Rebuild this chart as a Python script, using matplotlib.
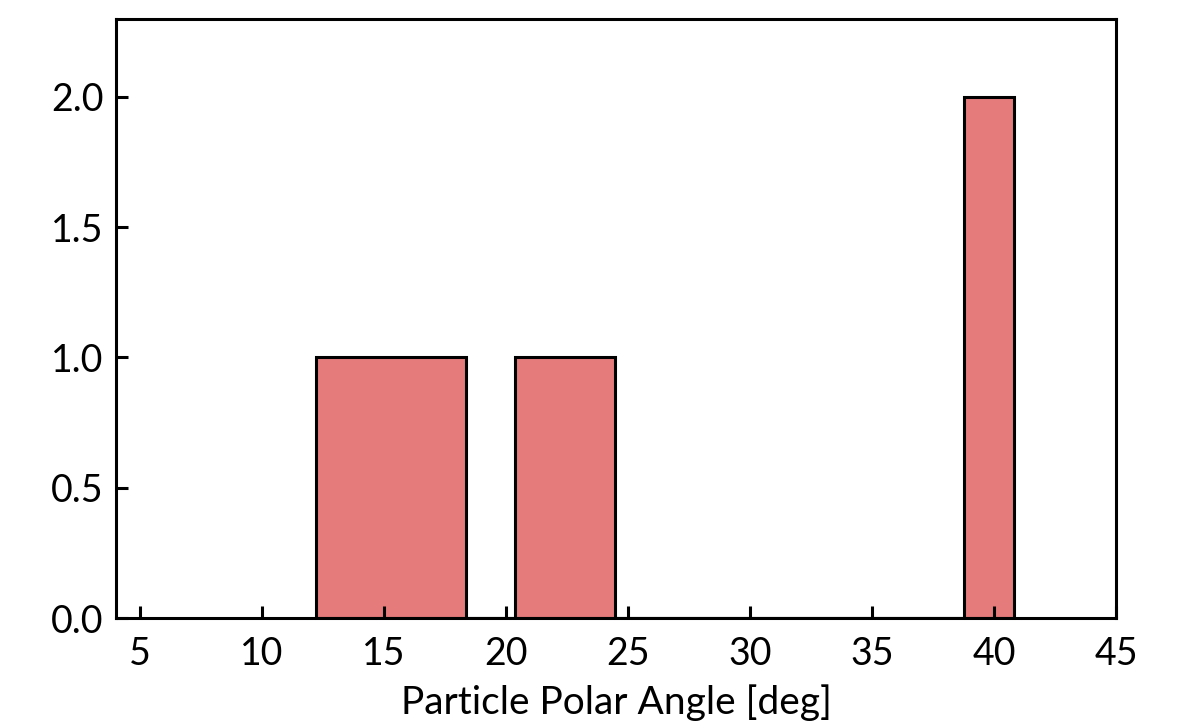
import matplotlib
matplotlib.use("Agg")
import matplotlib.pyplot as plt

# histogram of particle polar angles (bin edges in deg, counts per bin)
bin_edges = [12.22, 14.26, 16.31, 18.35, 20.39, 22.44, 24.48, 26.52,
             28.56, 30.61, 32.65, 34.69, 36.74, 38.78, 40.82]
counts = [1, 1, 1, 0, 1, 1, 0, 0, 0, 0, 0, 0, 0, 2]
xticks = [5, 10, 15, 20, 25, 30, 35, 40, 45]
yticks = [0.0, 0.5, 1.0, 1.5, 2.0]

plt.rcParams['font.family'] = ['Lato', 'DejaVu Sans']

fig = plt.figure(figsize=(11.89, 7.27), dpi=100)
ax = fig.add_axes([0.0976, 0.1499, 0.8410, 0.8246])

ax.hist(bin_edges[:-1], bins=bin_edges, weights=counts, histtype='stepfilled',
        facecolor='#e57b7b', edgecolor='black', linewidth=2.2)

ax.set_xlim(4.03, 45)
ax.set_ylim(0, 2.3)
ax.set_xticks(xticks)
ax.set_yticks(yticks)
ax.set_yticklabels([f"{v:.1f}" for v in yticks])

for s in ax.spines.values():
    s.set_linewidth(2.2)
ax.tick_params(direction='in', length=8.6, width=2.2, labelsize=27, pad=13)
ax.tick_params(axis='y', pad=9)

ax.set_xlabel("Particle Polar Angle [deg]", fontsize=28, labelpad=9)

fig.savefig("out.png", dpi=100)
